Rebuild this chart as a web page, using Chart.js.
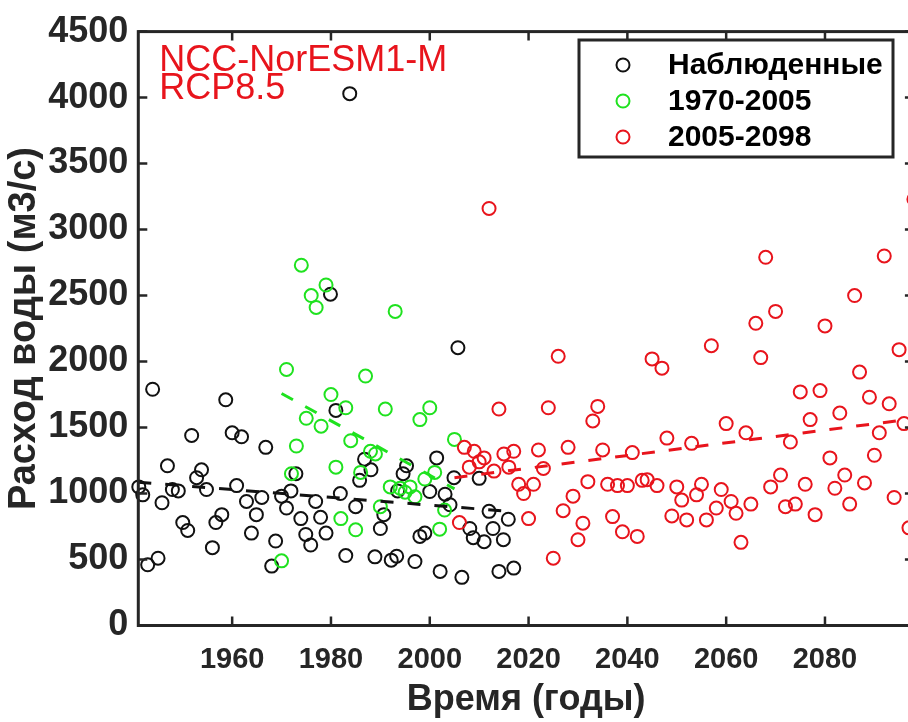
<!DOCTYPE html>
<html>
<head>
<meta charset="utf-8">
<script src="https://cdn.jsdelivr.net/npm/chart.js@4.4.1/dist/chart.umd.min.js"></script>
<style>
  html, body { margin: 0; padding: 0; background: #fff; overflow: hidden; width: 908px; height: 722px; }
  #wrap { width: 920px; height: 722px; }
</style>
</head>
<body>
<div id="wrap"><canvas id="c" width="920" height="722"></canvas></div>
<script>
// Observed annual discharge
const obsYears = [1941.1,1941.9,1942.9,1943.9,1945.0,1945.8,1946.9,1947.9,1949.1,1950.0,1951.0,1951.8,1952.8,1953.8,1954.8,1956.0,1956.7,1957.9,1958.7,1960.0,1960.9,1961.9,1962.9,1963.9,1964.9,1966.0,1966.8,1968.0,1968.8,1970.0,1971.0,1971.9,1972.9,1973.9,1974.9,1975.9,1976.9,1977.9,1979.0,1979.9,1981.0,1981.9,1983.0,1983.8,1985.0,1985.8,1986.8,1988.1,1988.9,1990.0,1990.7,1992.2,1993.3,1993.5,1994.6,1995.3,1997.0,1998.0,1999.0,2000.0,2001.4,2002.1,2003.1,2004.1,2004.9,2005.7,2006.5,2008.1,2008.8,2010.0,2011.0,2012.0,2012.8,2014.0,2014.9,2015.9,2017.0];
const obsFlow = [1050,990,460,1790,510,930,1210,1030,1020,780,720,1440,1120,1180,1030,590,780,840,1710,1460,1060,1430,940,700,840,970,1350,450,640,980,890,1020,1150,810,690,610,940,820,700,2510,1630,1000,530,4030,900,1100,1260,1180,520,735,840,495,525,1020,1150,1210,485,675,700,1015,1270,410,995,915,1120,2105,365,735,665,1115,635,865,735,410,650,805,435];

// Model, historical run 1970-2005
const histYears = [1970,1971,1972,1973,1974,1975,1976,1977,1978,1979,1980,1981,1982,1983,1984,1985,1986,1987,1988,1989,1990,1991,1992,1993,1994,1995,1996,1997,1998,1999,2000,2001,2002,2003,2005];
const histFlow = [490,1940,1150,1360,2730,1570,2500,2410,1510,2580,1750,1200,810,1650,1400,725,1160,1890,1320,1300,900,1640,1050,2380,1040,1010,1050,975,1560,1110,1650,1160,730,875,1410];

// Model, RCP8.5 projection 2005-2098
const projYears = [2006,2007,2008,2009,2010,2011,2012,2013,2014,2015,2016,2017,2018,2019,2020,2021,2022,2023,2024,2025,2026,2027,2028,2029,2030,2031,2032,2033,2034,2035,2036,2037,2038,2039,2040,2041,2042,2043,2044,2045,2046,2047,2048,2049,2050,2051,2052,2053,2054,2055,2056,2057,2058,2059,2060,2061,2062,2063,2064,2065,2066,2067,2068,2069,2070,2071,2072,2073,2074,2075,2076,2077,2078,2079,2080,2081,2082,2083,2084,2085,2086,2087,2088,2089,2090,2091,2092,2093,2094,2095,2096,2097,2098];
const projFlow = [780,1350,1200,1320,1240,1270,3160,1170,1640,1300,1200,1320,1070,1000,810,1070,1330,1190,1650,510,2040,870,1350,980,650,775,1090,1550,1660,1330,1070,825,1060,710,1060,1310,675,1100,1105,2020,1060,1950,1420,830,1050,950,800,1380,990,1070,800,2120,890,1030,1530,940,850,630,1460,920,2290,2030,2790,1050,2380,1140,900,1390,920,1770,1070,1560,840,1780,2270,1270,1040,1610,1140,920,2500,1920,1080,1730,1290,1460,2800,1680,970,2090,1530,740,3230];

// Linear trend end points
const obsTrendYears = [1941, 2017];
const obsTrendFlow = [1086, 862];
const histTrendYears = [1970, 2005];
const histTrendFlow = [1758, 1035];
const projTrendYears = [2005, 2098];
const projTrendFlow = [1120, 1567];

// Axis ticks
const xTickStep = 20;
const yTickStep = 500;

const seriesNames = ['Наблюденные', '1970-2005', '2005-2098'];
const modelName = ['NCC-NorESM1-M', 'RCP8.5'];

const AXIS = '#262626';
const C_OBS = '#111111';
const C_HIST = '#1fe21f';
const C_PROJ = '#e8141c';
const FONT = "'Liberation Sans', Arial, sans-serif";

const pts = (xs, ys) => xs.map((x, i) => ({ x, y: ys[i] }));

function scatterSet(label, xs, ys, color, order) {
  return {
    type: 'scatter', label, data: pts(xs, ys),
    borderColor: color, backgroundColor: 'rgba(0,0,0,0)',
    pointRadius: 6.5, pointHoverRadius: 6.5, pointBorderWidth: 2,
    showLine: false, clip: false, order, inLegend: true
  };
}
function trendSet(xs, ys, color) {
  return {
    type: 'line', data: pts(xs, ys), borderColor: color, borderWidth: 3,
    borderDash: [13, 14], pointRadius: 0, fill: false, tension: 0, order: 0, clip: false
  };
}

// Box around the plot with inward ticks on all four sides
const frame = {
  id: 'frame',
  afterDatasetsDraw(chart) {
    const { ctx, chartArea: a, scales: { x, y } } = chart;
    const T = 9;
    ctx.save();
    ctx.strokeStyle = AXIS;
    ctx.lineWidth = 2.5;
    ctx.beginPath();
    x.ticks.forEach(t => {
      const px = x.getPixelForValue(t.value);
      ctx.moveTo(px, a.bottom); ctx.lineTo(px, a.bottom - T);
      ctx.moveTo(px, a.top); ctx.lineTo(px, a.top + T);
    });
    y.ticks.forEach(t => {
      const py = y.getPixelForValue(t.value);
      ctx.moveTo(a.left, py); ctx.lineTo(a.left + T, py);
      ctx.moveTo(a.right, py); ctx.lineTo(a.right - T, py);
    });
    ctx.stroke();
    ctx.lineWidth = 3;
    ctx.strokeRect(a.left, a.top, a.right - a.left, a.bottom - a.top);
    ctx.restore();
  }
};

// Model caption and boxed legend
const overlay = {
  id: 'overlay',
  afterDraw(chart) {
    const { ctx, chartArea: a } = chart;
    ctx.save();
    ctx.fillStyle = C_PROJ;
    ctx.font = '36px ' + FONT;
    ctx.textBaseline = 'alphabetic';
    ctx.textAlign = 'left';
    ctx.fillText(modelName[0], a.left + 21, 71);
    ctx.fillText(modelName[1], a.left + 21, 99);

    const bx = 579, by = 40, bw = 314, bh = 117;
    ctx.fillStyle = '#fff';
    ctx.fillRect(bx, by, bw, bh);
    ctx.strokeStyle = AXIS;
    ctx.lineWidth = 3;
    ctx.strokeRect(bx, by, bw, bh);
    const sets = chart.data.datasets.filter(d => d.inLegend);
    ctx.font = 'bold 30px ' + FONT;
    ctx.textBaseline = 'middle';
    sets.forEach((d, i) => {
      const cy = by + 25 + i * 36;
      ctx.beginPath();
      ctx.arc(bx + 44, cy, 6.5, 0, Math.PI * 2);
      ctx.strokeStyle = d.borderColor;
      ctx.lineWidth = 2;
      ctx.stroke();
      ctx.fillStyle = '#000';
      ctx.fillText(d.label, bx + 89, cy + 1);
    });
    ctx.restore();
  }
};

const plain = v => String(v);

new Chart(document.getElementById('c'), {
  type: 'scatter',
  data: {
    datasets: [
      scatterSet(seriesNames[0], obsYears, obsFlow, C_OBS, 3),
      scatterSet(seriesNames[1], histYears, histFlow, C_HIST, 2),
      scatterSet(seriesNames[2], projYears, projFlow, C_PROJ, 1),
      trendSet(obsTrendYears, obsTrendFlow, C_OBS),
      trendSet(histTrendYears, histTrendFlow, C_HIST),
      trendSet(projTrendYears, projTrendFlow, C_PROJ)
    ]
  },
  options: {
    responsive: false,
    animation: false,
    devicePixelRatio: 1,
    layout: { autoPadding: false, padding: { top: 22.5, right: 6.1, left: 0, bottom: 0 } },
    plugins: { legend: { display: false }, tooltip: { enabled: false } },
    events: [],
    scales: {
      x: {
        type: 'linear', min: 1941, max: 2098,
        afterFit(s) { s.height = 96.5; },
        grid: { display: false, drawTicks: false },
        border: { display: false },
        ticks: {
          stepSize: xTickStep, includeBounds: false, autoSkip: false, maxRotation: 0,
          color: AXIS, padding: 17, callback: plain,
          font: { family: FONT, weight: 'bold', size: 29 }
        },
        title: {
          display: true, text: 'Время (годы)', color: AXIS,
          font: { family: FONT, weight: 'bold', size: 36 },
          padding: { top: 3, bottom: 0 }
        }
      },
      y: {
        type: 'linear', min: 0, max: 4500,
        afterFit(s) { s.width = 138.3; },
        grid: { display: false, drawTicks: false },
        border: { display: false },
        ticks: {
          stepSize: yTickStep, color: AXIS, padding: 10, callback: plain,
          font: { family: FONT, weight: 'bold', size: 36 }
        },
        title: {
          display: true, text: 'Расход воды (м3/с)', color: AXIS,
          font: { family: FONT, weight: 'bold', size: 38 },
          padding: { top: 2, bottom: 0 }
        }
      }
    }
  },
  plugins: [frame, overlay]
});
</script>
</body>
</html>
